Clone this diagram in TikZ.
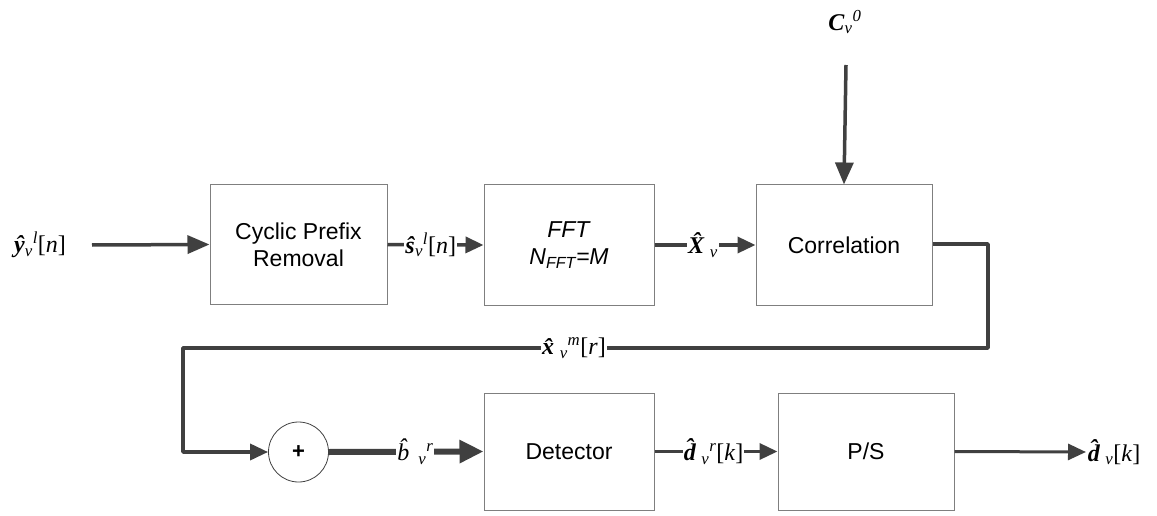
\documentclass[tikz,border=0pt]{standalone}
\usepackage{fontspec}
\setmainfont{Liberation Serif}
\newfontfamily\arialf{Liberation Sans}
\usetikzlibrary{arrows.meta}
\definecolor{wirec}{HTML}{404040}
\definecolor{boxc}{HTML}{7F7F7F}
\newcommand{\bi}[1]{\textbf{\textit{#1}}}
\newcommand{\sbx}[1]{\textsubscript{\textit{#1}}}
\newcommand{\spx}[1]{\textsuperscript{\textit{#1}}}
\begin{document}
\begin{tikzpicture}[x=1pt,y=-1pt,
  blk/.style={draw=boxc,line width=1pt,fill=white,inner sep=0pt,font=\arialf\fontsize{23}{27}\selectfont,align=center},
  wire/.style={draw=wirec,line width=3.5pt},
  thinwire/.style={draw=wirec,line width=3pt},
  arr/.style={-{Triangle[length=18pt,width=16pt]}},
  bigarr/.style={-{Triangle[length=22pt,width=18pt]}},
  lbl/.style={fill=white,inner sep=1pt,font=\fontsize{24}{28}\selectfont},
]
\useasboundingbox (0,0) rectangle (1157,516);
\node[blk,minimum width=177pt,minimum height=119pt] (cp) at (298.5,244.5) {Cyclic Prefix\\Removal};
\node[blk,minimum width=170pt,minimum height=120pt] (fft) at (569,245) {\textit{FFT}\\\textit{N\textsubscript{FFT}=M}};
\node[blk,minimum width=176pt,minimum height=120pt] (cor) at (844,245) {Correlation};
\node[blk,minimum width=170pt,minimum height=117pt] (det) at (569,451.5) {Detector};
\node[blk,minimum width=176pt,minimum height=117pt] (ps) at (866,451.5) {P/S};
\node[draw=wirec,line width=0.8pt,circle,minimum size=60pt,inner sep=0pt,font=\arialf\bfseries\fontsize{22}{26}\selectfont] (add) at (298.5,452) {+};

\node[lbl] (yin) at (40,245) {\bi{ŷ}\sbx{v}\spx{l}[\textit{n}]};
\node[lbl] (cin) at (845,22) {\bi{C}\sbx{v}\spx{0}};
\coordinate (ctop) at (846,65);
\node[lbl] (dout) at (1114,452) {\bi{\^{d}}\sbx{v}[\textit{k}]};
\coordinate (oend) at (1086,452);

% top row
\draw[wire,bigarr] (92,245) -- (cp.west);
\draw[wire,bigarr] (ctop) -- (cor.north);
\draw[wire,arr] (cp.east) -- (fft.west) node[lbl,pos=0.45] {\bi{ŝ}\sbx{v}\spx{l}[\textit{n}]};
\draw[wire,arr] (fft.east) -- (cor.west) node[lbl,pos=0.48] {\bi{\^{X}}\sbx{v}};

% feedback loop
\coordinate (c1) at (988,244);
\coordinate (c2) at (988,348);
\coordinate (c3) at (183,348);
\coordinate (c4) at (183,452);
\draw[wire,arr,line join=round] (cor.east |- c1) -- (c1) -- (c2) -- (c3) -- (c4) -- (add.west);
\node[lbl] (xlab) at (574,348) {\bi{\^{x}}\sbx{v}\spx{m}[\textit{r}]};

% bottom row
\draw[draw=wirec,line width=6pt,-{Triangle[length=24pt,width=22pt]}] (add.east) -- (det.west) node[lbl,pos=0.56] {\textit{\^{b}}\sbx{v}\spx{r}};
\draw[wire,arr] (det.east) -- (ps.west) node[lbl,pos=0.48] {\bi{\^{d}}\sbx{v}\spx{r}[\textit{k}]};
\draw[thinwire,arr] (ps.east) -- (oend);
\end{tikzpicture}
\end{document}
